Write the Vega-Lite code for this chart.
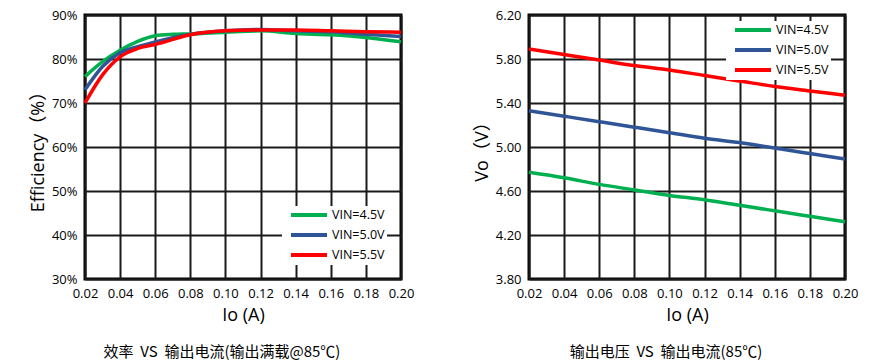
{
  "$schema": "https://vega.github.io/schema/vega-lite/v6.json",
  "padding": {"left": 27, "top": 7, "right": 5, "bottom": 5},
  "background": "white",
  "spacing": 128,
  "bounds": "flush",
  "datasets": {
    "eff": [
      {"io": 0.02, "vin": "VIN=4.5V", "v": 76.0},
      {"io": 0.03, "vin": "VIN=4.5V", "v": 79.4},
      {"io": 0.04, "vin": "VIN=4.5V", "v": 82.0},
      {"io": 0.05, "vin": "VIN=4.5V", "v": 84.0},
      {"io": 0.06, "vin": "VIN=4.5V", "v": 85.3},
      {"io": 0.07, "vin": "VIN=4.5V", "v": 85.6},
      {"io": 0.08, "vin": "VIN=4.5V", "v": 85.7},
      {"io": 0.10, "vin": "VIN=4.5V", "v": 86.1},
      {"io": 0.12, "vin": "VIN=4.5V", "v": 86.4},
      {"io": 0.14, "vin": "VIN=4.5V", "v": 85.8},
      {"io": 0.16, "vin": "VIN=4.5V", "v": 85.5},
      {"io": 0.18, "vin": "VIN=4.5V", "v": 84.9},
      {"io": 0.20, "vin": "VIN=4.5V", "v": 83.9},
      {"io": 0.02, "vin": "VIN=5.0V", "v": 73.0},
      {"io": 0.03, "vin": "VIN=5.0V", "v": 78.3},
      {"io": 0.04, "vin": "VIN=5.0V", "v": 81.4},
      {"io": 0.05, "vin": "VIN=5.0V", "v": 82.8},
      {"io": 0.06, "vin": "VIN=5.0V", "v": 83.9},
      {"io": 0.08, "vin": "VIN=5.0V", "v": 85.6},
      {"io": 0.10, "vin": "VIN=5.0V", "v": 86.4},
      {"io": 0.12, "vin": "VIN=5.0V", "v": 86.7},
      {"io": 0.14, "vin": "VIN=5.0V", "v": 86.4},
      {"io": 0.16, "vin": "VIN=5.0V", "v": 86.2},
      {"io": 0.18, "vin": "VIN=5.0V", "v": 85.6},
      {"io": 0.20, "vin": "VIN=5.0V", "v": 85.1},
      {"io": 0.02, "vin": "VIN=5.5V", "v": 70.0},
      {"io": 0.03, "vin": "VIN=5.5V", "v": 76.4},
      {"io": 0.04, "vin": "VIN=5.5V", "v": 80.5},
      {"io": 0.05, "vin": "VIN=5.5V", "v": 82.4},
      {"io": 0.06, "vin": "VIN=5.5V", "v": 83.3},
      {"io": 0.08, "vin": "VIN=5.5V", "v": 85.5},
      {"io": 0.10, "vin": "VIN=5.5V", "v": 86.4},
      {"io": 0.12, "vin": "VIN=5.5V", "v": 86.6},
      {"io": 0.14, "vin": "VIN=5.5V", "v": 86.6},
      {"io": 0.16, "vin": "VIN=5.5V", "v": 86.4},
      {"io": 0.18, "vin": "VIN=5.5V", "v": 86.2},
      {"io": 0.20, "vin": "VIN=5.5V", "v": 86.1}
    ],
    "vo": [
      {"io": 0.02, "vin": "VIN=4.5V", "v": 4.77},
      {"io": 0.04, "vin": "VIN=4.5V", "v": 4.72},
      {"io": 0.06, "vin": "VIN=4.5V", "v": 4.66},
      {"io": 0.08, "vin": "VIN=4.5V", "v": 4.61},
      {"io": 0.10, "vin": "VIN=4.5V", "v": 4.56},
      {"io": 0.12, "vin": "VIN=4.5V", "v": 4.52},
      {"io": 0.14, "vin": "VIN=4.5V", "v": 4.47},
      {"io": 0.16, "vin": "VIN=4.5V", "v": 4.42},
      {"io": 0.18, "vin": "VIN=4.5V", "v": 4.37},
      {"io": 0.20, "vin": "VIN=4.5V", "v": 4.32},
      {"io": 0.02, "vin": "VIN=5.0V", "v": 5.33},
      {"io": 0.04, "vin": "VIN=5.0V", "v": 5.28},
      {"io": 0.06, "vin": "VIN=5.0V", "v": 5.23},
      {"io": 0.08, "vin": "VIN=5.0V", "v": 5.18},
      {"io": 0.10, "vin": "VIN=5.0V", "v": 5.13},
      {"io": 0.12, "vin": "VIN=5.0V", "v": 5.08},
      {"io": 0.14, "vin": "VIN=5.0V", "v": 5.04},
      {"io": 0.16, "vin": "VIN=5.0V", "v": 4.99},
      {"io": 0.18, "vin": "VIN=5.0V", "v": 4.94},
      {"io": 0.20, "vin": "VIN=5.0V", "v": 4.89},
      {"io": 0.02, "vin": "VIN=5.5V", "v": 5.89},
      {"io": 0.04, "vin": "VIN=5.5V", "v": 5.84},
      {"io": 0.06, "vin": "VIN=5.5V", "v": 5.79},
      {"io": 0.08, "vin": "VIN=5.5V", "v": 5.74},
      {"io": 0.10, "vin": "VIN=5.5V", "v": 5.70},
      {"io": 0.12, "vin": "VIN=5.5V", "v": 5.65},
      {"io": 0.14, "vin": "VIN=5.5V", "v": 5.60},
      {"io": 0.16, "vin": "VIN=5.5V", "v": 5.55},
      {"io": 0.18, "vin": "VIN=5.5V", "v": 5.51},
      {"io": 0.20, "vin": "VIN=5.5V", "v": 5.47}
    ]
  },
  "hconcat": [
    {
      "width": 316,
      "height": 264,
      "data": {"name": "eff"},
      "title": {"text": "效率\u00a0\u00a0VS\u00a0\u00a0输出电流(输出满载@85℃)", "orient": "bottom", "dx": -21, "offset": 21},
      "mark": {"type": "line", "strokeWidth": 3.5, "interpolate": "monotone"},
      "encoding": {
        "x": {"field": "io", "type": "quantitative", "scale": {"domain": [0.02, 0.2], "nice": false},
              "axis": {"grid": true, "gridColor": "#1a1a1a", "gridWidth": 2, "values": [0.02,0.04,0.06,0.08,0.10,0.12,0.14,0.16,0.18,0.20], "format": ".2f", "title": "Io (A)"}},
        "y": {"field": "v", "type": "quantitative", "scale": {"domain": [30, 90], "nice": false, "zero": false},
              "axis": {"grid": true, "gridColor": "#1a1a1a", "gridWidth": 2, "values": [30,40,50,60,70,80,90], "labelExpr": "datum.value + '%'", "title": "Efficiency（%）"}},
        "color": {"field": "vin", "type": "nominal",
                  "scale": {"domain": ["VIN=4.5V","VIN=5.0V","VIN=5.5V"], "range": ["#00B050","#2F5597","#FF0000"]},
                  "legend": {"title": null, "orient": "bottom-right", "offset": 14}}
      }
    },
    {
      "width": 316,
      "height": 264,
      "data": {"name": "vo"},
      "title": {"text": "输出电压\u00a0\u00a0VS\u00a0\u00a0输出电流(85℃)", "orient": "bottom", "dx": -21, "offset": 21},
      "mark": {"type": "line", "strokeWidth": 3.5, "interpolate": "monotone"},
      "encoding": {
        "x": {"field": "io", "type": "quantitative", "scale": {"domain": [0.02, 0.2], "nice": false},
              "axis": {"grid": true, "gridColor": "#1a1a1a", "gridWidth": 2, "values": [0.02,0.04,0.06,0.08,0.10,0.12,0.14,0.16,0.18,0.20], "format": ".2f", "title": "Io (A)"}},
        "y": {"field": "v", "type": "quantitative", "scale": {"domain": [3.8, 6.2], "nice": false, "zero": false},
              "axis": {"grid": true, "gridColor": "#1a1a1a", "gridWidth": 2, "values": [3.8,4.2,4.6,5.0,5.4,5.8,6.2], "format": ".2f", "title": "Vo（V）"}},
        "color": {"field": "vin", "type": "nominal",
                  "scale": {"domain": ["VIN=4.5V","VIN=5.0V","VIN=5.5V"], "range": ["#00B050","#2F5597","#FF0000"]},
                  "legend": {"title": null, "orient": "none", "legendX": 197, "legendY": 6}}
      }
    }
  ],
  "resolve": {"scale": {"color": "independent"}, "legend": {"color": "independent"}},
  "config": {
    "font": "Open Sans, Noto Sans CJK SC",
    "view": {"stroke": "#000000", "strokeWidth": 3},
    "axis": {
      "domain": false, "tickSize": 0,
      "labelFont": "Open Sans", "labelFontSize": 13, "labelColor": "#000000", "labelPadding": 8,
      "titleFont": "Open Sans, Noto Sans CJK SC", "titleFontSize": 18, "titleFontWeight": "normal", "titleColor": "#000000",
      "labelFlush": false
    },
    "axisX": {"titlePadding": 6},
    "axisY": {"titlePadding": 4},
    "legend": {
      "symbolType": "M0,0H7.2", "symbolSize": 100, "symbolStrokeWidth": 4,
      "labelFont": "Open Sans", "labelFontSize": 12.5, "labelColor": "#000000", "labelOffset": 34,
      "fillColor": "white", "padding": 2, "rowPadding": 4, "symbolOpacity": 1
    },
    "title": {"font": "Noto Sans CJK SC", "fontSize": 15, "fontWeight": "normal", "color": "#000000", "anchor": "middle"}
  }
}
